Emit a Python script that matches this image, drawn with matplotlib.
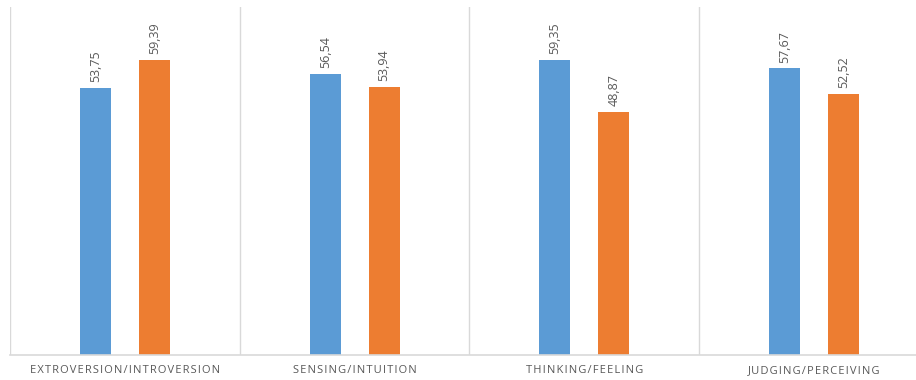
import matplotlib
matplotlib.use("Agg")
import matplotlib.pyplot as plt
import numpy as np

categories = ["EXTROVERSION/INTROVERSION", "SENSING/INTUITION",
              "THINKING/FEELING", "JUDGING/PERCEIVING"]
first_pole = [53.75, 56.54, 59.35, 57.67]
second_pole = [59.39, 53.94, 48.87, 52.52]

blue = "#5B9BD5"
orange = "#ED7D31"
grid = "#D9D9D9"
text_grey = "#595959"

plt.rcParams["font.family"] = ["Open Sans", "DejaVu Sans"]

fig = plt.figure(figsize=(9.16, 3.80), dpi=100)
# the plot area runs a little past the right edge of the canvas
ax = fig.add_axes([10 / 916, 1 - 355 / 380, 919 / 916, 348 / 380])

x = np.arange(len(categories))
w = 0.135
off = 0.128
b1 = ax.bar(x - off, first_pole, w, color=blue, zorder=3)
b2 = ax.bar(x + off, second_pole, w, color=orange, zorder=3)

def fmt(v):
    return f"{v:.2f}".replace(".", ",")

for bars, vals in ((b1, first_pole), (b2, second_pole)):
    for r, v in zip(bars, vals):
        ax.annotate(fmt(v), (r.get_x() + r.get_width() / 2, v),
                    xytext=(0, 4), textcoords="offset points",
                    rotation=90, ha="center", va="bottom",
                    fontsize=9, color=text_grey)

ax.set_xlim(-0.5, len(categories) - 0.5)
ax.set_ylim(0, 70)

# category separators
for b in np.arange(-0.5, len(categories) + 0.5, 1):
    ax.axvline(b, color=grid, lw=1, zorder=1)

for s in ax.spines.values():
    s.set_visible(False)
ax.axhline(0, color=grid, lw=1.2, zorder=4, clip_on=False)
ax.set_yticks([])
ax.set_xticks(x)
spaced = ["\u200a".join(c) for c in categories]
ax.set_xticklabels(spaced, fontsize=8, color=text_grey)
ax.tick_params(axis="x", length=0, pad=7)

fig.savefig("out.png", dpi=100)
